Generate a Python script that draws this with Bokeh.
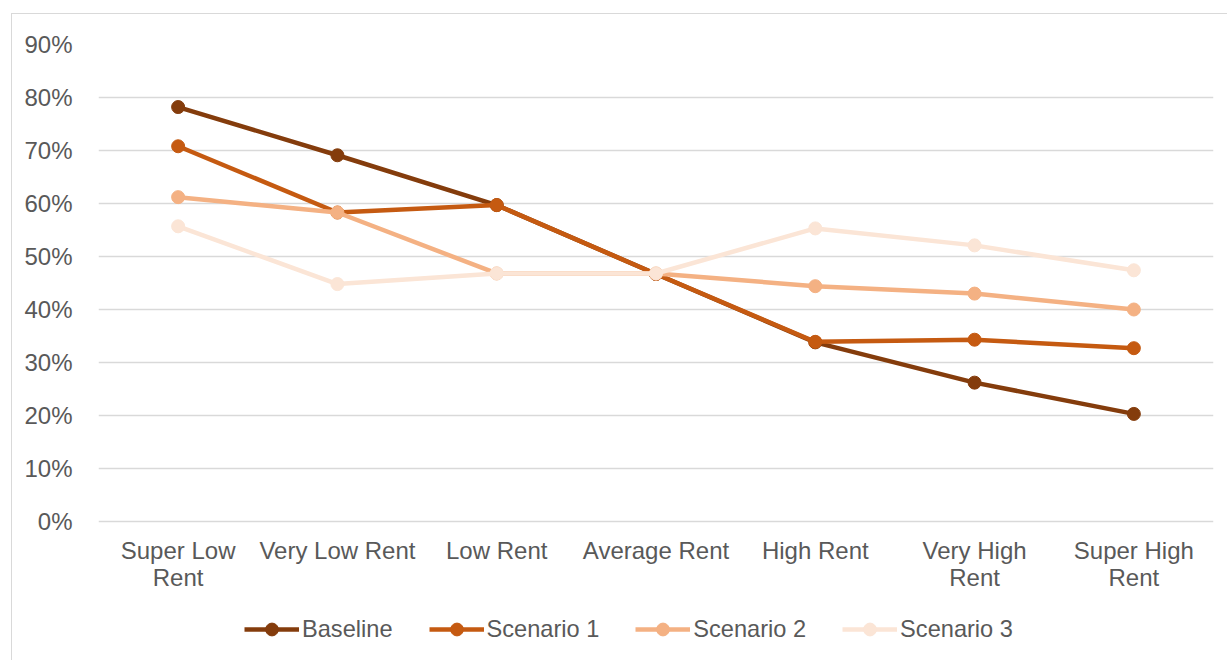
from bokeh.plotting import figure
from bokeh.models import ColumnDataSource, FactorRange, Range1d, NumeralTickFormatter, FixedTicker, Legend, LegendItem
from bokeh.embed import file_html
from bokeh.resources import INLINE

categories = ["Super Low\nRent", "Very Low Rent", "Low Rent", "Average Rent", "High Rent", "Very High\nRent", "Super High\nRent"]
series_names = ["Baseline", "Scenario 1", "Scenario 2", "Scenario 3"]
baseline = [0.782, 0.691, 0.597, 0.467, 0.338, 0.262, 0.203]
scenario1 = [0.708, 0.583, 0.597, 0.467, 0.339, 0.343, 0.327]
scenario2 = [0.612, 0.583, 0.468, 0.468, 0.444, 0.430, 0.400]
scenario3 = [0.557, 0.448, 0.468, 0.468, 0.553, 0.521, 0.474]
colors = ["#843C0C", "#C55A11", "#F4B183", "#FBE5D6"]
y_ticks = [0, 0.1, 0.2, 0.3, 0.4, 0.5, 0.6, 0.7, 0.8, 0.9]

FONT = "Liberation Sans"
TXT = "#595959"

# layout in pixels (relative to the figure box)
H = 647
TOP = 30          # frame top (90% line)
ZERO = 507        # 0% line
BOTTOM_PAD = 5
frame_bottom = H - BOTTOM_PAD
per_px = 0.9 / (ZERO - TOP)
y_start = -(frame_bottom - ZERO) * per_px

p = figure(width=1216, height=H, x_range=FactorRange(*categories, range_padding=0),
           y_range=Range1d(y_start, 0.9), output_backend="svg", toolbar_location=None,
           min_border_left=86, min_border_right=15, min_border_top=TOP, min_border_bottom=BOTTOM_PAD,
           margin=(13, 0, 0, 11))
p.styles = {"border-left": "1px solid #D9D9D9", "border-top": "1px solid #D9D9D9"}
p.outline_line_color = None
p.xgrid.grid_line_color = None
p.ygrid.grid_line_color = "#D9D9D9"
p.ygrid.grid_line_width = 1.3

p.yaxis.ticker = FixedTicker(ticks=y_ticks)
p.yaxis.formatter = NumeralTickFormatter(format="0%")
p.xaxis.fixed_location = 0
for ax in (p.xaxis[0], p.yaxis[0]):
    ax.axis_line_color = None
    ax.major_tick_line_color = None
    ax.minor_tick_line_color = None
    ax.major_label_text_font = FONT
    ax.major_label_text_font_size = "24px"
    ax.major_label_text_color = TXT
p.xaxis.major_label_text_line_height = 1.0
p.yaxis.major_label_standoff = 20
p.xaxis.major_label_standoff = 9

items = []
for name, vals, col in zip(series_names, [baseline, scenario1, scenario2, scenario3], colors):
    src = ColumnDataSource(dict(x=categories, y=vals))
    r1 = p.line("x", "y", source=src, line_color=col, line_width=4.5)
    r2 = p.scatter("x", "y", source=src, size=13, fill_color=col, line_color=col)
    items.append(LegendItem(label=name, renderers=[r1, r2]))

legend = Legend(items=items, orientation="horizontal", location=(146, 11),
                label_text_font=FONT, label_text_font_size="23.6px", label_text_color=TXT,
                glyph_width=55, glyph_height=32, spacing=36, label_standoff=3,
                border_line_color=None, background_fill_alpha=0, padding=4, margin=0)
p.add_layout(legend, "center")

open("out.html", "w").write(file_html(p, INLINE))
